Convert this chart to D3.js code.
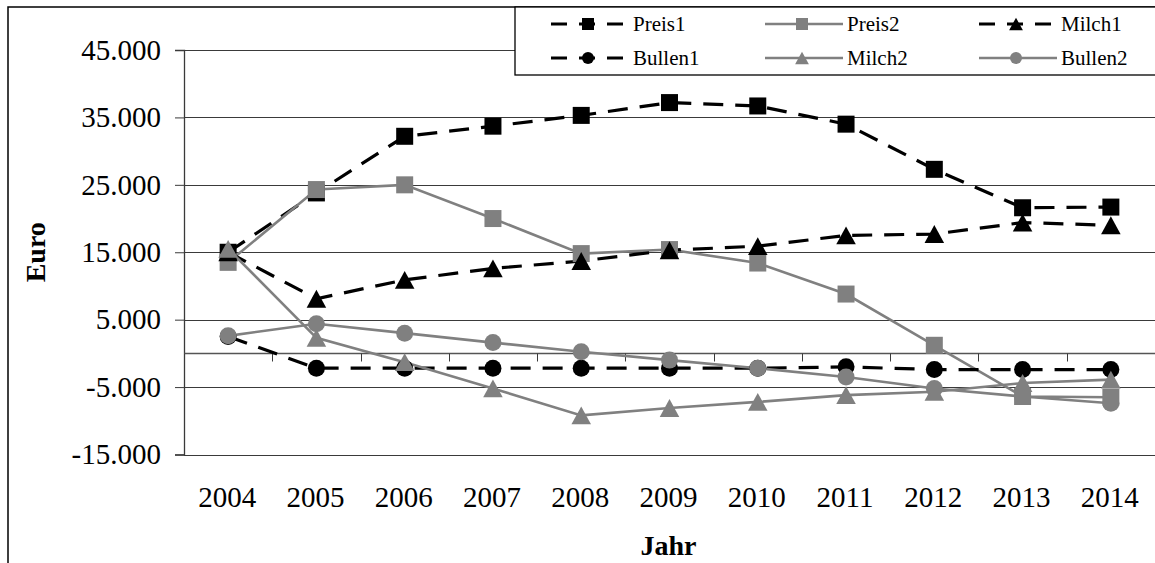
<!DOCTYPE html>
<html><head><meta charset="utf-8">
<script src="https://cdn.jsdelivr.net/npm/d3@7"></script>
<style>
body{margin:0;background:#fff}
svg{display:block}
</style>
</head><body>
<svg id="chart" width="1155" height="563"></svg>
<script>
// ---- data ----
const years = ["2004","2005","2006","2007","2008","2009","2010","2011","2012","2013","2014"];
const preis1  = [15000, 23800, 32200, 33700, 35300, 37200, 36700, 34000, 27300, 21600, 21700];
const preis2  = [13500, 24300, 25000, 20000, 14800, 15400, 13400,  8800,  1200, -6400, -6500];
const milch1  = [15000,  8100, 10900, 12600, 13700, 15300, 15900, 17500, 17700, 19400, 19000];
const bullen1 = [ 2500, -2200, -2200, -2200, -2200, -2200, -2200, -2000, -2400, -2400, -2400];
const milch2  = [15500,  2300, -1300, -5200, -9200, -8100, -7200, -6200, -5700, -4400, -3900];
const bullen2 = [ 2600,  4400,  3000,  1600,   250, -1000, -2200, -3500, -5200, -6400, -7400];
const seriesNames = ["Preis1","Preis2","Milch1","Bullen1","Milch2","Bullen2"];
const yTicks = [-15000, -5000, 5000, 15000, 25000, 35000, 45000];
const yLabel = "Euro";
const xLabel = "Jahr";

// ---- styles ----
const FONT = "'Liberation Serif', 'Times New Roman', Tinos, 'DejaVu Serif', serif";
const BLACK = "#000", GRAY = "#808080";
const series = [
  {name: seriesNames[0], values: preis1,  color: BLACK, dashed: true,  shape: "square"},
  {name: seriesNames[1], values: preis2,  color: GRAY,  dashed: false, shape: "square"},
  {name: seriesNames[2], values: milch1,  color: BLACK, dashed: true,  shape: "triangle"},
  {name: seriesNames[3], values: bullen1, color: BLACK, dashed: true,  shape: "circle"},
  {name: seriesNames[4], values: milch2,  color: GRAY,  dashed: false, shape: "triangle"},
  {name: seriesNames[5], values: bullen2, color: GRAY,  dashed: false, shape: "circle"}
];

const svg = d3.select("#chart").style("font-family", FONT);
const pLeft = 184, pRight = 1155, pTop = 50, pBottom = 454.5;

const x = d3.scaleBand().domain(years).range([pLeft, pRight]).padding(0);
const y = d3.scaleLinear().domain([-15000, 45000]).range([pBottom, pTop]);
const loc = d3.formatLocale({decimal: ",", thousands: ".", grouping: [3], currency: ["", "€"], minus: "-"});
const fmt = loc.format(",.0f");

// outer chart border
svg.append("rect").attr("x", 8).attr("y", 7).attr("width", 1400).attr("height", 800)
  .attr("fill", "none").attr("stroke", "#000").attr("stroke-width", 1.5);

// gridlines
svg.append("g").selectAll("line").data(yTicks).join("line")
  .attr("x1", pLeft).attr("x2", pRight)
  .attr("y1", d => Math.round(y(d)) + 0.5).attr("y2", d => Math.round(y(d)) + 0.5)
  .attr("stroke", "#3a3a3a").attr("stroke-width", 1);

// y axis
const yAxis = svg.append("g").attr("transform", `translate(${pLeft},0)`)
  .call(d3.axisLeft(y).tickValues(yTicks).tickFormat(fmt).tickSize(9).tickPadding(14));
yAxis.attr("font-family", null).attr("font-size", null);
yAxis.select(".domain").attr("stroke", "#3a3a3a").attr("stroke-width", 1.3);
yAxis.selectAll(".tick line").attr("stroke", "#3a3a3a");
yAxis.selectAll(".tick text").style("font-family", FONT).style("font-size", "29px").attr("fill", "#000");

// x axis at zero
const boundaries = years.map(d => x(d)).concat([pRight]);
const y0 = Math.round(y(0)) + 0.5;
svg.append("line").attr("x1", pLeft).attr("x2", pRight).attr("y1", y0).attr("y2", y0)
  .attr("stroke", "#555").attr("stroke-width", 1.3);
svg.append("g").selectAll("line").data(boundaries).join("line")
  .attr("x1", d => Math.round(d) + 0.5).attr("x2", d => Math.round(d) + 0.5)
  .attr("y1", y0).attr("y2", y0 + 8).attr("stroke", "#3a3a3a");

// x labels
svg.append("g").selectAll("text").data(years).join("text")
  .attr("x", d => x(d) + x.bandwidth() / 2 - 1).attr("y", 507)
  .attr("text-anchor", "middle").style("font-family", FONT).style("font-size", "29px").text(d => d);

// axis titles
svg.append("text").attr("x", pLeft + (pRight - pLeft) / 2 - 1).attr("y", 555)
  .attr("text-anchor", "middle").style("font-family", FONT).style("font-size", "28px")
  .style("font-weight", "bold").text(xLabel);
svg.append("text").attr("transform", `translate(45,${(pTop + pBottom) / 2}) rotate(-90)`)
  .attr("text-anchor", "middle").style("font-family", FONT).style("font-size", "28px")
  .style("font-weight", "bold").text(yLabel);

// marker shapes
function shapePath(shape, s) {
  if (shape === "square") return `M${-s/2},${-s/2}h${s}v${s}h${-s}Z`;
  if (shape === "circle") return d3.symbol(d3.symbolCircle, Math.PI * (s/2) * (s/2))();
  const w = s * 1.15, h = s * 1.05;
  return `M0,${-h/2}L${w/2},${h/2}L${-w/2},${h/2}Z`;
}
const cx = d => x(d) + x.bandwidth() / 2;

// lines
const line = d3.line().x((d, i) => cx(years[i])).y(d => y(d));
series.forEach(s => {
  svg.append("path").datum(s.values).attr("d", line)
    .attr("fill", "none").attr("stroke", s.color)
    .attr("stroke-width", s.dashed ? 3.2 : 2.6)
    .attr("stroke-dasharray", s.dashed ? "20,12" : null);
});
// markers
series.forEach(s => {
  svg.append("g").selectAll("path").data(s.values).join("path")
    .attr("transform", (d, i) => `translate(${cx(years[i])},${y(d)})`)
    .attr("d", shapePath(s.shape, 17)).attr("fill", s.color);
});

// legend
const lg = svg.append("g");
lg.append("rect").attr("x", 515).attr("y", 7).attr("width", 700).attr("height", 68)
  .attr("fill", "#fff").attr("stroke", "#000").attr("stroke-width", 1.3);
const colX = [551, 765, 979], rowY = [24, 58];
series.forEach((s, i) => {
  const c = i % 3, r = Math.floor(i / 3);
  const x0 = colX[c], yy = rowY[r];
  lg.append("line").attr("x1", x0).attr("x2", x0 + 78).attr("y1", yy).attr("y2", yy)
    .attr("stroke", s.color).attr("stroke-width", s.dashed ? 3.2 : 2.6)
    .attr("stroke-dasharray", s.dashed ? "16,12" : null);
  lg.append("path").attr("transform", `translate(${x0 + 37},${yy})`)
    .attr("d", shapePath(s.shape, 12)).attr("fill", s.color);
  lg.append("text").attr("x", x0 + 82).attr("y", yy).attr("dy", "0.34em")
    .style("font-family", FONT).style("font-size", "21px").text(s.name);
});
</script>
</body></html>
